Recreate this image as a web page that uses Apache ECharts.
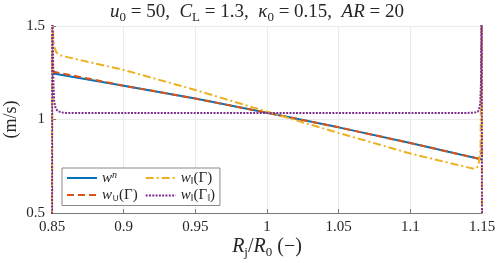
<!DOCTYPE html>
<html><head><meta charset="utf-8">
<script src="https://cdn.jsdelivr.net/npm/echarts@6/dist/echarts.min.js"></script>
<style>html,body{margin:0;padding:0;background:#fff}#c{width:500px;height:263px}</style>
</head><body><div id="c"></div>
<script>
// ---- data ----
const xTicks = [0.85, 0.9, 0.95, 1, 1.05, 1.1, 1.15];
const yTicks = [0.5, 1, 1.5];

const wnX = [0.85, 0.9, 0.95, 1.0, 1.05, 1.1, 1.15];
const wnY = [1.247, 1.181, 1.112, 1.036, 0.958, 0.874, 0.786];

const wcupX = [0.85, 0.8503, 0.8507, 0.8512, 0.852, 0.9, 0.95, 1.0, 1.05, 1.1, 1.148, 1.149, 1.1495, 1.15];
const wcupY = [1.32, 1.29, 1.268, 1.255, 1.245, 1.181, 1.112, 1.036, 0.958, 0.874, 0.79, 0.80, 0.82, 0.86];

const wparX = [0.85, 0.8502, 0.8508, 0.8515, 0.853, 0.855, 0.86, 0.9, 0.95, 1.0, 1.05, 1.1, 1.14, 1.145, 1.1475, 1.149, 1.1498, 1.15];
const wparY = [0.3, 1.7, 1.45, 1.39, 1.36, 1.345, 1.335, 1.265, 1.158, 1.042, 0.928, 0.818, 0.744, 0.736, 0.75, 0.85, 1.7, 0.3];

const wpp_X = [0.85, 0.8502, 0.8506, 0.851, 0.8515, 0.8525, 0.854, 0.857, 0.86, 1.14, 1.145, 1.147, 1.148, 1.1488, 1.1493, 1.1498, 1.15];
const wpp_Y = [0.3, 1.7, 1.4, 1.2, 1.1, 1.06, 1.045, 1.038, 1.035, 1.035, 1.037, 1.042, 1.055, 1.09, 1.2, 1.7, 0.3];

const seriesNames = ['wn', 'wcup', 'wpar', 'wparpar'];
const legendLabels = {
  wn: '{i|w}{sup|n}{pad|}',
  wcup: '{i|w}{sub|∪}{r|(Γ)}{pad|}',
  wpar: '{i|w}{sub|‖}{r|(Γ)}',
  wparpar: '{i|w}{sub|‖}{r|(Γ}{sub|‖}{r|)}'
};
const titleText = '{i|u}{sub|0}{r| = 50,  }{i|C}{sub|L}{r| = 1.3,  }{i|κ}{sub|0}{r| = 0.15,  }{i|AR}{r| = 20}';
const xName = '{i|R}{sub|j}{r|/}{i|R}{sub|0}{r| (−)}';
const yName = '(m/s)';

// ---- styling ----
const F = 'Liberation Serif';
const TXT = '#262626';
function rich(fs, lh, sfs, slh) {
  return {
    r: {fontFamily: F, fontWeight: 'normal', fontSize: fs, lineHeight: lh, color: TXT, verticalAlign: 'middle'},
    i: {fontFamily: F, fontWeight: 'normal', fontStyle: 'italic', fontSize: fs, lineHeight: lh, color: TXT, verticalAlign: 'middle'},
    sub: {fontFamily: F, fontWeight: 'normal', fontSize: sfs, lineHeight: slh, color: TXT, verticalAlign: 'bottom'},
    sup: {fontFamily: F, fontWeight: 'normal', fontStyle: 'italic', fontSize: sfs, lineHeight: slh, color: TXT, verticalAlign: 'top'},
    pad: {width: 5, lineHeight: lh}
  };
}
const pairs = (xs, ys) => xs.map((x, k) => [x, ys[k]]);
const fmt = v => String(+v.toFixed(2));

const chart = echarts.init(document.getElementById('c'), null, {renderer: 'canvas'});
chart.setOption({
  animation: false,
  backgroundColor: '#fff',
  title: {
    text: titleText,
    left: 257, top: 0, padding: 0, textAlign: 'center',
    textStyle: {fontWeight: 'normal', fontFamily: F, fontSize: 19, rich: rich(19, 24, 13, 9)}
  },
  grid: {left: 52, right: 18, top: 26, bottom: 50, containLabel: false, outerBoundsMode: 'none'},
  legend: {
    data: seriesNames,
    orient: 'vertical',
    left: 62, top: 168, height: 36,
    itemWidth: 30, itemHeight: 16, itemGap: 2,
    padding: [2, 5, 2, 4],
    borderColor: '#8a8a8a', borderWidth: 1, backgroundColor: '#fff',
    selectedMode: false,
    itemStyle: {opacity: 0},
    formatter: n => legendLabels[n],
    textStyle: {fontFamily: F, fontSize: 14, color: TXT, rich: rich(15, 16, 10, 6)}
  },
  xAxis: {
    type: 'value', min: 0.85, max: 1.15, interval: 0.05,
    name: xName, nameLocation: 'middle', nameGap: 22, nameMoveOverlap: false,
    nameTextStyle: {rich: rich(20, 24, 13, 9)},
    axisLine: {show: true, lineStyle: {color: '#7a7a7a', width: 1}},
    axisTick: {show: true, inside: true, length: 4, lineStyle: {color: '#7a7a7a'}},
    axisLabel: {fontFamily: F, fontSize: 15, color: TXT, margin: 7, formatter: fmt},
    splitLine: {show: true, lineStyle: {color: '#ebebeb', width: 1}}
  },
  yAxis: {
    type: 'value', min: 0.5, max: 1.5, interval: 0.5,
    name: yName, nameLocation: 'middle', nameGap: 32, nameRotate: 90, nameMoveOverlap: false,
    nameTextStyle: {fontFamily: F, fontSize: 18, color: TXT},
    axisLine: {show: true, lineStyle: {color: '#7a7a7a', width: 1}},
    axisTick: {show: true, inside: true, length: 4, lineStyle: {color: '#7a7a7a'}},
    axisLabel: {fontFamily: F, fontSize: 15, color: TXT, margin: 7, formatter: fmt},
    splitLine: {show: true, lineStyle: {color: '#ebebeb', width: 1}}
  },
  series: [
    {name: 'wn', type: 'line', data: pairs(wnX, wnY), symbol: 'none', clip: true, z: 2,
     color: '#0072BD', lineStyle: {color: '#0072BD', width: 2, type: 'solid'}},
    {name: 'wcup', type: 'line', data: pairs(wcupX, wcupY), symbol: 'none', clip: true, z: 3,
     color: '#D95319', lineStyle: {color: '#D95319', width: 2, type: [7, 4]}},
    {name: 'wpar', type: 'line', data: pairs(wparX, wparY), symbol: 'none', clip: true, z: 4,
     color: '#EDB120', lineStyle: {color: '#EDB120', width: 2, type: [8, 3, 2, 3]}},
    {name: 'wparpar', type: 'line', data: pairs(wpp_X, wpp_Y), symbol: 'none', clip: true, z: 5,
     color: '#7E2F8E', lineStyle: {color: '#7E2F8E', width: 2, type: [2, 1.3]}}
  ]
});
</script></body></html>
